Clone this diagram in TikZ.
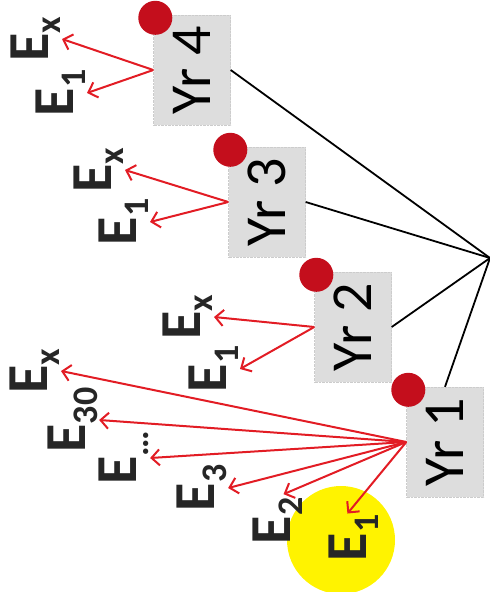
\documentclass[tikz,border=0pt]{standalone}
\usepackage{fontspec}
\setmainfont{Carlito}
\usetikzlibrary{arrows.meta}
\definecolor{arrowred}{RGB}{226,28,36}
\definecolor{dotred}{RGB}{196,14,28}
\definecolor{boxgray}{RGB}{221,221,221}
\definecolor{hilite}{RGB}{255,243,0}
\newcommand{\Esub}[1]{\textbf{E\raisebox{-12pt}{\fontsize{36}{36}\selectfont #1}}}
\newcommand{\Yr}[1]{\rotatebox{90}{Yr #1}}
\tikzset{
  yr/.style={fill=boxgray, draw=gray!40, densely dotted, minimum width=77pt, minimum height=110pt, inner sep=0pt, font=\fontsize{58}{58}\selectfont},
  ev/.style={rotate=90, inner sep=1pt, text=black!85, font=\fontsize{58}{58}\selectfont},
  yrdot/.style={circle, fill=dotred, minimum size=34pt, inner sep=0pt},
  link/.style={line width=1.8pt},
  pick/.style={draw=arrowred, line width=2pt, -{Straight Barb[length=8pt,width=16pt]}},
}
\begin{document}
\begin{tikzpicture}[x=1pt, y=-1pt]
\useasboundingbox (0,0) rectangle (490,592);
\node[circle, fill=hilite, minimum size=108pt] (hl) at (341,540) {};
\coordinate (hub) at (490,258);
\node[yr] (yr4) at (192,70) {\Yr{4}};
\node[yr] (yr3) at (267,202) {\Yr{3}};
\node[yr] (yr2) at (353,327) {\Yr{2}};
\node[yr] (yr1) at (445,442) {\Yr{1}};
\foreach \n in {yr4,yr3,yr2,yr1}
  \node[yrdot] at ([shift={(2,3)}]\n.north west) {};
\node[ev] (e4x) at (36,39) {\Esub{x}};
\node[ev] (e41) at (61,93) {\Esub{1}};
\node[ev] (e3x) at (99,170) {\Esub{x}};
\node[ev] (e31) at (124,222) {\Esub{1}};
\node[ev] (e2x) at (188,317) {\Esub{x}};
\node[ev] (e21) at (214,369) {\Esub{1}};
\node[ev] (e1x) at (35,371) {\Esub{x}};
\node[ev] (e130) at (73,420) {\Esub{30}};
\node[ev] (e1d) at (124,458) {\Esub{\ldots}};
\node[ev] (e13) at (202,488) {\Esub{3}};
\node[ev] (e12) at (278,521) {\Esub{2}};
\node[ev] (e11) at (354,538) {\Esub{1}};
\draw[link](hub) to (yr4.east);
\draw[link](hub) to (yr3.east);
\draw[link](hub) to (yr2.east);
\draw[link](hub) to (yr1.north);
\draw[pick](yr4.west) to (e4x.south);
\draw[pick](yr4.west) to (e41.south);
\draw[pick](yr3.west) to (e3x.south);
\draw[pick](yr3.west) to (e31.south);
\draw[pick](yr2.west) to (e2x.south);
\draw[pick](yr2.west) to (e21.south);
\draw[pick](yr1.west) to (e1x.south);
\draw[pick](yr1.west) to (e130.south);
\draw[pick](yr1.west) to (e1d.south);
\draw[pick](yr1.west) to (e13.south);
\draw[pick, shorten >=6pt](yr1.west) to (e12.east);
\draw[pick](yr1.west) to (e11.15);
\end{tikzpicture}
\end{document}
